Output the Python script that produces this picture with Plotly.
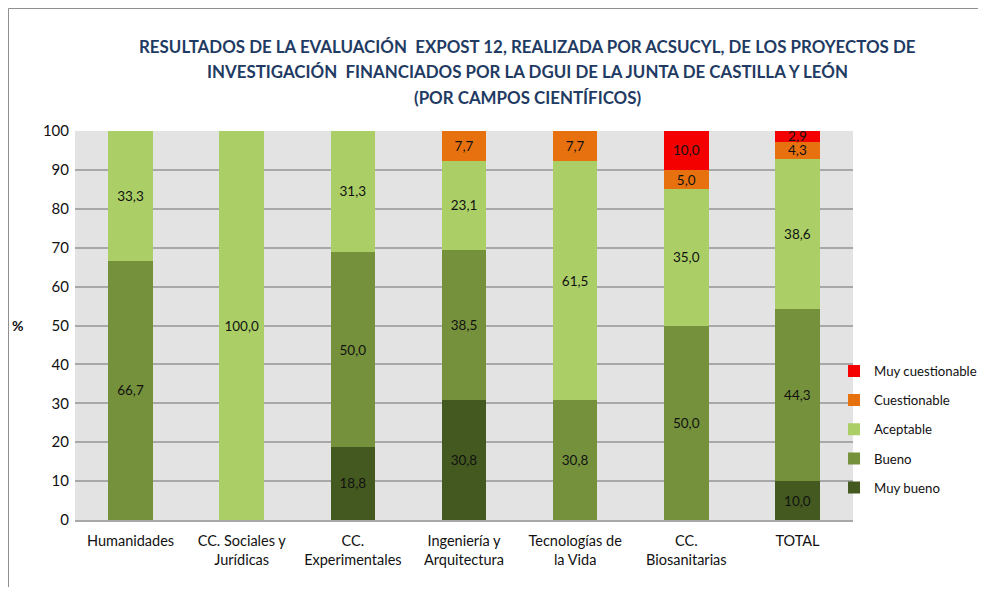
import plotly.graph_objects as go

CATEGORIES = [
    "Humanidades",
    "CC. Sociales y<br>Jurídicas",
    "CC.<br>Experimentales",
    "Ingeniería y<br>Arquitectura",
    "Tecnologías de<br>la Vida",
    "CC.<br>Biosanitarias",
    "TOTAL",
]

# None = category has no projects with that rating (no segment, no label)
MUY_BUENO = [None, None, 18.8, 30.8, None, None, 10.0]
BUENO = [66.7, None, 50.0, 38.5, 30.8, 50.0, 44.3]
ACEPTABLE = [33.3, 100.0, 31.3, 23.1, 61.5, 35.0, 38.6]
CUESTIONABLE = [None, None, None, 7.7, 7.7, 5.0, 4.3]
MUY_CUESTIONABLE = [None, None, None, None, None, 10.0, 2.9]

SERIES = [
    ("Muy bueno", MUY_BUENO, "#44591f"),
    ("Bueno", BUENO, "#76913b"),
    ("Aceptable", ACEPTABLE, "#abcf66"),
    ("Cuestionable", CUESTIONABLE, "#e8710f"),
    ("Muy cuestionable", MUY_CUESTIONABLE, "#f50000"),
]

TITLE_LINES = [
    "RESULTADOS DE LA EVALUACIÓN  EXPOST 12, REALIZADA POR ACSUCYL, DE LOS PROYECTOS DE",
    "INVESTIGACIÓN  FINANCIADOS POR LA DGUI DE LA JUNTA DE CASTILLA Y LEÓN",
    "(POR CAMPOS CIENTÍFICOS)",
]

FONT = "Lato, Carlito, Calibri, sans-serif"

fig = go.Figure()
for i, (name, values, color) in enumerate(SERIES):
    fig.add_trace(
        go.Bar(
            name=name,
            x=CATEGORIES,
            y=values,
            marker_color=color,
            marker_line_width=0,
            texttemplate="%{y:.1f}",
            textposition="inside",
            insidetextanchor="middle",
            textfont=dict(size=13.5, color="#111111", family=FONT),
            legendgroup=name,
            legendrank=len(SERIES) - i,
        )
    )

for line, ypos in zip(TITLE_LINES, [1.216, 1.152, 1.087]):
    fig.add_annotation(
        text="<b>%s</b>" % line,
        xref="paper",
        yref="paper",
        x=0.581,
        y=ypos,
        showarrow=False,
        xanchor="center",
        yanchor="middle",
        font=dict(size=16.9, color="#1f3b63", family=FONT),
    )

fig.add_annotation(
    text="<b>%</b>",
    xref="paper",
    yref="paper",
    x=-0.0733,
    y=0.5,
    showarrow=False,
    xanchor="center",
    font=dict(size=14, color="#111111", family=FONT),
)

# outer chart frame (right and bottom edges fall outside the picture)
fig.add_shape(
    type="rect",
    xref="paper",
    yref="paper",
    x0=-0.0855,
    x1=1.3,
    y0=-0.35,
    y1=1.315,
    line=dict(color="#8c8c8c", width=1),
    layer="below",
)

# sized to fit the window inside the page's default 8px body margin
fig.update_layout(
    width=970,
    height=579,
    barmode="stack",
    bargap=0.6,
    separators=",.",
    font=dict(family=FONT, size=14, color="#111111"),
    paper_bgcolor="white",
    plot_bgcolor="#e3e3e3",
    margin=dict(l=67, r=125, t=123, b=67, autoexpand=False),
    showlegend=True,
    legend=dict(
        x=0.9756,
        y=0.422,
        xanchor="left",
        yanchor="top",
        traceorder="grouped",
        tracegroupgap=9,
        font=dict(size=13.2, family=FONT, color="#111111"),
        bgcolor="rgba(0,0,0,0)",
    ),
    uniformtext=dict(minsize=12, mode="show"),
    xaxis=dict(
        showgrid=False,
        tickfont=dict(size=14.5, family=FONT),
        ticklabelstandoff=7,
        showline=True,
        linecolor="#a8a8a8",
        linewidth=2,
    ),
    yaxis=dict(
        range=[0, 100],
        dtick=10,
        showgrid=True,
        gridcolor="#a8a8a8",
        gridwidth=2,
        zeroline=False,
        ticks="",
        ticklabelstandoff=5,
        tickfont=dict(size=15, family=FONT),
    ),
)

fig.write_html("out.html")
